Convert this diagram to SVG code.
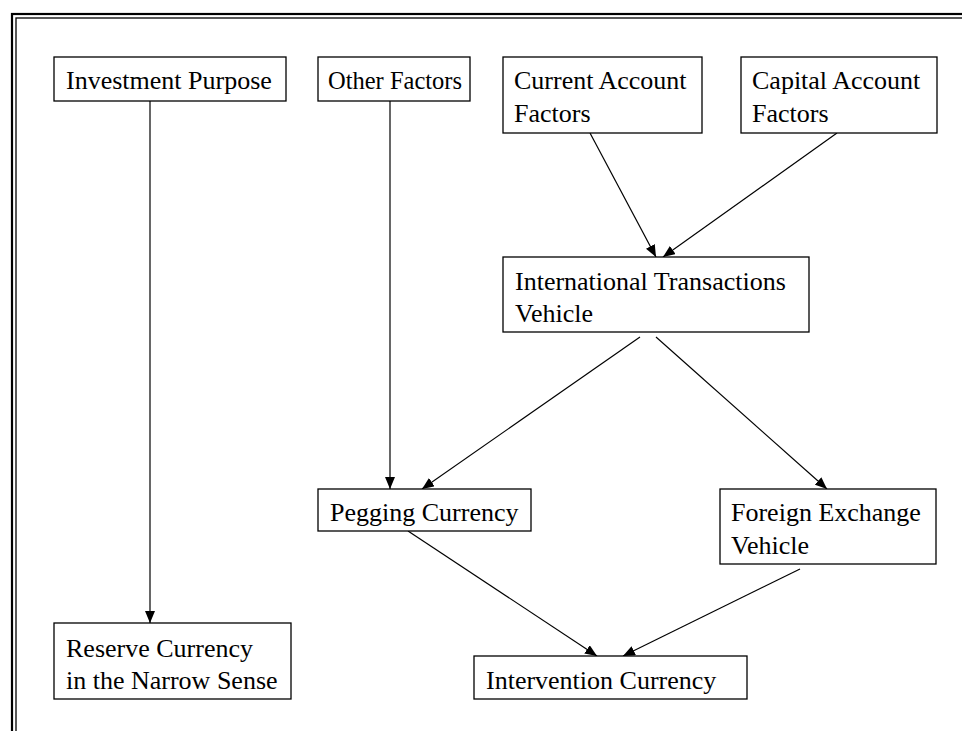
<svg xmlns="http://www.w3.org/2000/svg" width="962" height="731" viewBox="0 0 962 731">
<style>
.box{fill:#fff;stroke:#000;stroke-width:1.3}
.t{font-family:"Liberation Serif","Times New Roman",serif;font-size:26px;fill:#000}
.c{stroke:#000;stroke-width:1.2;fill:none;marker-end:url(#ah)}
</style>
<defs>
<marker id="ah" viewBox="0 0 12 10" refX="12" refY="5" markerWidth="12" markerHeight="10" markerUnits="userSpaceOnUse" orient="auto">
<path d="M0,0 L12,5 L0,10 z" fill="#000"/>
</marker>
</defs>
<rect width="962" height="731" fill="#fff"/>
<g id="frame">
<rect x="12" y="14" width="980" height="760" fill="none" stroke="#000" stroke-width="2.2"/>
<rect x="16" y="18" width="980" height="760" fill="none" stroke="#000" stroke-width="1.3"/>
</g>
<g id="connectors">
<line class="c" x1="150" y1="101" x2="150" y2="623"/>
<line class="c" x1="390" y1="101" x2="390" y2="489"/>
<line class="c" x1="590" y1="133" x2="656" y2="257"/>
<line class="c" x1="837" y1="133" x2="663" y2="257"/>
<line class="c" x1="640" y1="337" x2="422" y2="489"/>
<line class="c" x1="656" y1="337" x2="827" y2="489"/>
<line class="c" x1="408" y1="531" x2="597" y2="656"/>
<line class="c" x1="800" y1="569" x2="623" y2="656"/>
</g>
<g id="investment">
<rect class="box" x="54" y="57" width="232" height="44"/>
<text class="t" x="66" y="89">Investment Purpose</text>
</g>
<g id="other">
<rect class="box" x="318" y="57" width="152" height="44"/>
<text class="t" x="328" y="89" textLength="134" lengthAdjust="spacingAndGlyphs">Other Factors</text>
</g>
<g id="current">
<rect class="box" x="503" y="57" width="199" height="76"/>
<text class="t" x="514" y="89">Current Account</text>
<text class="t" x="514" y="122">Factors</text>
</g>
<g id="capital">
<rect class="box" x="741" y="57" width="196" height="76"/>
<text class="t" x="752" y="89">Capital Account</text>
<text class="t" x="752" y="122">Factors</text>
</g>
<g id="itv">
<rect class="box" x="503" y="257" width="306" height="75"/>
<text class="t" x="515" y="290">International Transactions</text>
<text class="t" x="515" y="322">Vehicle</text>
</g>
<g id="pegging">
<rect class="box" x="318" y="489" width="213" height="42"/>
<text class="t" x="330" y="521">Pegging Currency</text>
</g>
<g id="fxv">
<rect class="box" x="720" y="489" width="216" height="75"/>
<text class="t" x="731" y="521">Foreign Exchange</text>
<text class="t" x="731" y="554">Vehicle</text>
</g>
<g id="reserve">
<rect class="box" x="54" y="623" width="237" height="76"/>
<text class="t" x="66" y="657">Reserve Currency</text>
<text class="t" x="66" y="689">in the Narrow Sense</text>
</g>
<g id="intervention">
<rect class="box" x="474" y="656" width="273" height="43"/>
<text class="t" x="486" y="689">Intervention Currency</text>
</g>
</svg>
